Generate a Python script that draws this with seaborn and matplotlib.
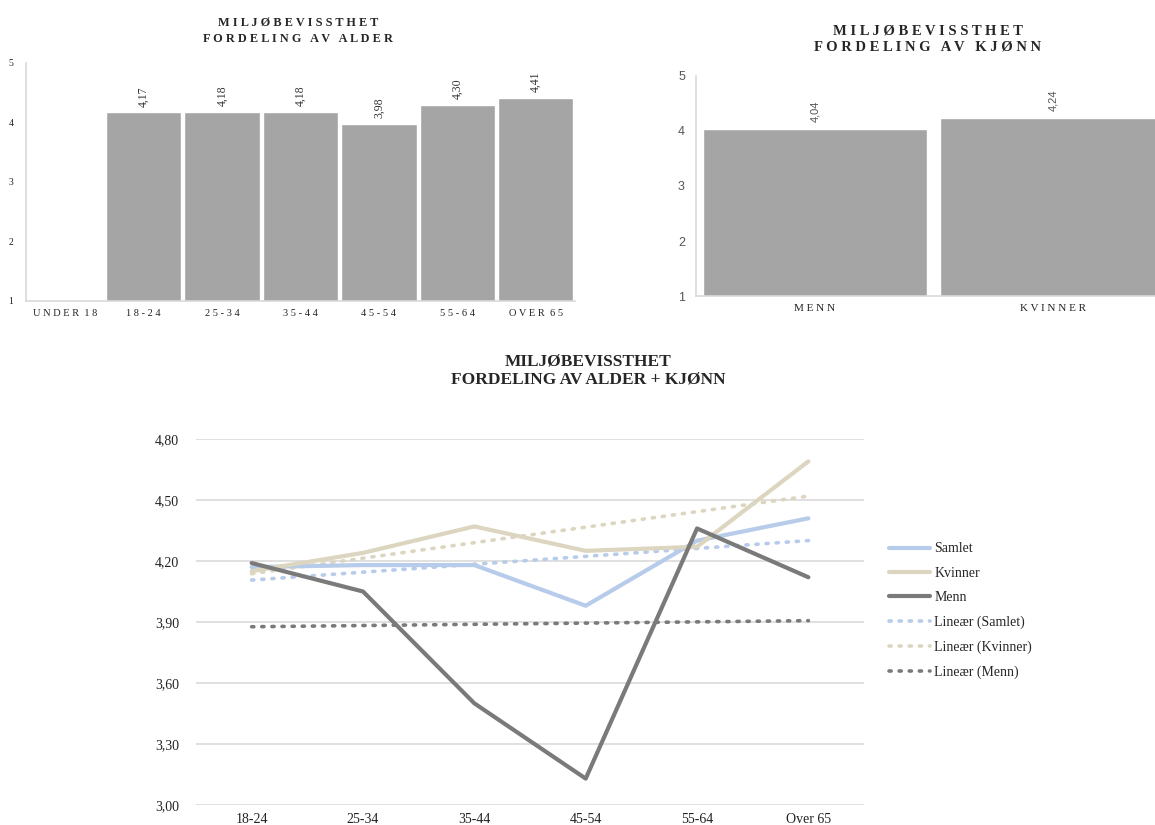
import numpy as np
import pandas as pd
import matplotlib
matplotlib.use("Agg")
import matplotlib.pyplot as plt
import seaborn as sns

# data
age_groups = ["UNDER 18", "18-24", "25-34", "35-44", "45-54", "55-64", "OVER 65"]
age_scores = [np.nan, 4.17, 4.18, 4.18, 3.98, 4.30, 4.41]

gender_groups = ["MENN", "KVINNER"]
gender_scores = [4.04, 4.24]

line_ages = ["18-24", "25-34", "35-44", "45-54", "55-64", "Over 65"]
samlet = [4.17, 4.18, 4.18, 3.98, 4.30, 4.41]
kvinner = [4.15, 4.24, 4.37, 4.25, 4.27, 4.69]
menn = [4.19, 4.05, 3.50, 3.13, 4.36, 4.12]

sns.set_theme(style="white")
plt.rcParams['font.family'] = ['Liberation Serif', 'DejaVu Serif']

bar_color = "#a5a5a5"
spine_color = "#d9d9d9"
text_color = "#333333"


def comma(v):
    if np.isnan(v):
        return ""
    return f"{v:.2f}".replace(".", ",")


fig = plt.figure(figsize=(11.55, 8.25), dpi=100)

# --- top left: by age ---
ax1 = fig.add_axes([0.0225, 0.6352, 0.4753, 0.2885])
df_age = pd.DataFrame({"alder": age_groups, "score": age_scores})
sns.barplot(data=df_age, x="alder", y="score", order=age_groups,
            color=bar_color, saturation=1, width=0.96, ax=ax1)
ax1.set_ylim(1, 5)
ax1.set_yticks([1, 2, 3, 4, 5])
ax1.set_xlabel("")
ax1.set_ylabel("")
for c in ax1.containers:
    ax1.bar_label(c, fmt=comma, rotation=90, padding=4, fontsize=8.5, color=text_color)
ax1.tick_params(axis="y", labelsize=7, colors="#222222", length=0, pad=9)
ax1.set_xticks(range(len(age_groups)))
ax1.set_xticklabels([" ".join(g).replace("   ", "  ") for g in age_groups],
                    fontsize=7.5, color="#222222")
ax1.tick_params(axis="x", length=0, pad=6)
for s in ["top", "right"]:
    ax1.spines[s].set_visible(False)
for s in ["left", "bottom"]:
    ax1.spines[s].set_color(spine_color)
    ax1.spines[s].set_linewidth(1.2)
fig.text(0.258, 0.962, "M I L J Ø B E V I S S T H E T\nF O R D E L I N G   A V   A L D E R",
         ha="center", va="center", fontsize=8.8, fontweight="bold", linespacing=1.45)

# --- top right: by gender ---
ax2 = fig.add_axes([0.6026, 0.6412, 0.412, 0.2667])
df_gender = pd.DataFrame({"kjonn": gender_groups, "score": gender_scores})
sns.barplot(data=df_gender, x="kjonn", y="score", order=gender_groups,
            color=bar_color, saturation=1, width=0.945, ax=ax2)
ax2.set_ylim(1, 5)
ax2.set_yticks([1, 2, 3, 4, 5])
ax2.set_xlabel("")
ax2.set_ylabel("")
for c in ax2.containers:
    ax2.bar_label(c, fmt=comma, rotation=90, padding=5, fontsize=8,
                  color="#555555", family="Liberation Sans")
ax2.tick_params(axis="y", labelsize=9, colors="#555555", length=0, pad=8)
for lab in ax2.get_yticklabels():
    lab.set_family("Liberation Sans")
ax2.set_xticks(range(len(gender_groups)))
ax2.set_xticklabels([" ".join(g) for g in gender_groups], fontsize=8, color="#222222")
ax2.tick_params(axis="x", length=0, pad=6)
for s in ["top", "right"]:
    ax2.spines[s].set_visible(False)
for s in ["left", "bottom"]:
    ax2.spines[s].set_color(spine_color)
    ax2.spines[s].set_linewidth(1.2)
fig.text(0.803, 0.953, "M I L J Ø B E V I S S T H E T\nF O R D E L I N G   A V   K J Ø N N",
         ha="center", va="center", fontsize=10.5, fontweight="bold", linespacing=1.35)

# --- bottom: age + gender lines ---
ax3 = fig.add_axes([0.1697, 0.0242, 0.5784, 0.4437])
x = np.arange(len(line_ages))
series = {"Samlet": samlet, "Kvinner": kvinner, "Menn": menn}
colors = {"Samlet": "#b7cbea", "Kvinner": "#dcd6c0", "Menn": "#7a7a7a"}
long_df = pd.DataFrame([
    {"x": i, "serie": name, "score": v}
    for name, vals in series.items() for i, v in enumerate(vals)
])
yt = [3.0, 3.3, 3.6, 3.9, 4.2, 4.5, 4.8]
for y in yt:
    ax3.axhline(y, color="#dddddd", lw=1.3, zorder=0)

# linear trend lines first (dotted)
for name, vals in series.items():
    k, m = np.polyfit(x, vals, 1)
    trend = pd.DataFrame({"x": x, "score": k * x + m})
    sns.lineplot(data=trend, x="x", y="score", color=colors[name], lw=2.6,
                 linestyle=(0, (0.6, 2.2)), dash_capstyle="round", ax=ax3,
                 label="Lineær (" + name + ")")
sns.lineplot(data=long_df, x="x", y="score", hue="serie", palette=colors,
             lw=3, ax=ax3)

ax3.set_xlim(-0.5, len(line_ages) - 0.5)
ax3.set_ylim(3.0, 4.8)
ax3.set_xticks(x)
ax3.set_xticklabels(line_ages)
ax3.set_yticks(yt)
ax3.set_yticklabels([f"{v:.2f}".replace(".", ",") for v in yt])
ax3.tick_params(axis="both", labelsize=10, colors="#222222", length=0)
ax3.tick_params(axis="y", pad=12)
ax3.tick_params(axis="x", pad=6)
ax3.set_xlabel("")
ax3.set_ylabel("")
sns.despine(ax=ax3, left=True, bottom=True)

h, l = ax3.get_legend_handles_labels()
lookup = dict(zip(l, h))
order = ["Samlet", "Kvinner", "Menn", "Lineær (Samlet)", "Lineær (Kvinner)", "Lineær (Menn)"]
ax3.legend([lookup[o] for o in order], order, loc="upper left",
           bbox_to_anchor=(876 / 1155, 1 - 530 / 825), bbox_transform=fig.transFigure,
           frameon=False, fontsize=10, labelspacing=0.82, handlelength=3.0,
           handletextpad=0.3)

fig.text(0.509, 0.551, "MILJØBEVISSTHET\nFORDELING AV ALDER + KJØNN",
         ha="center", va="center", fontsize=12.5, fontweight="bold", linespacing=1.1)

fig.savefig("out.png", dpi=100)
